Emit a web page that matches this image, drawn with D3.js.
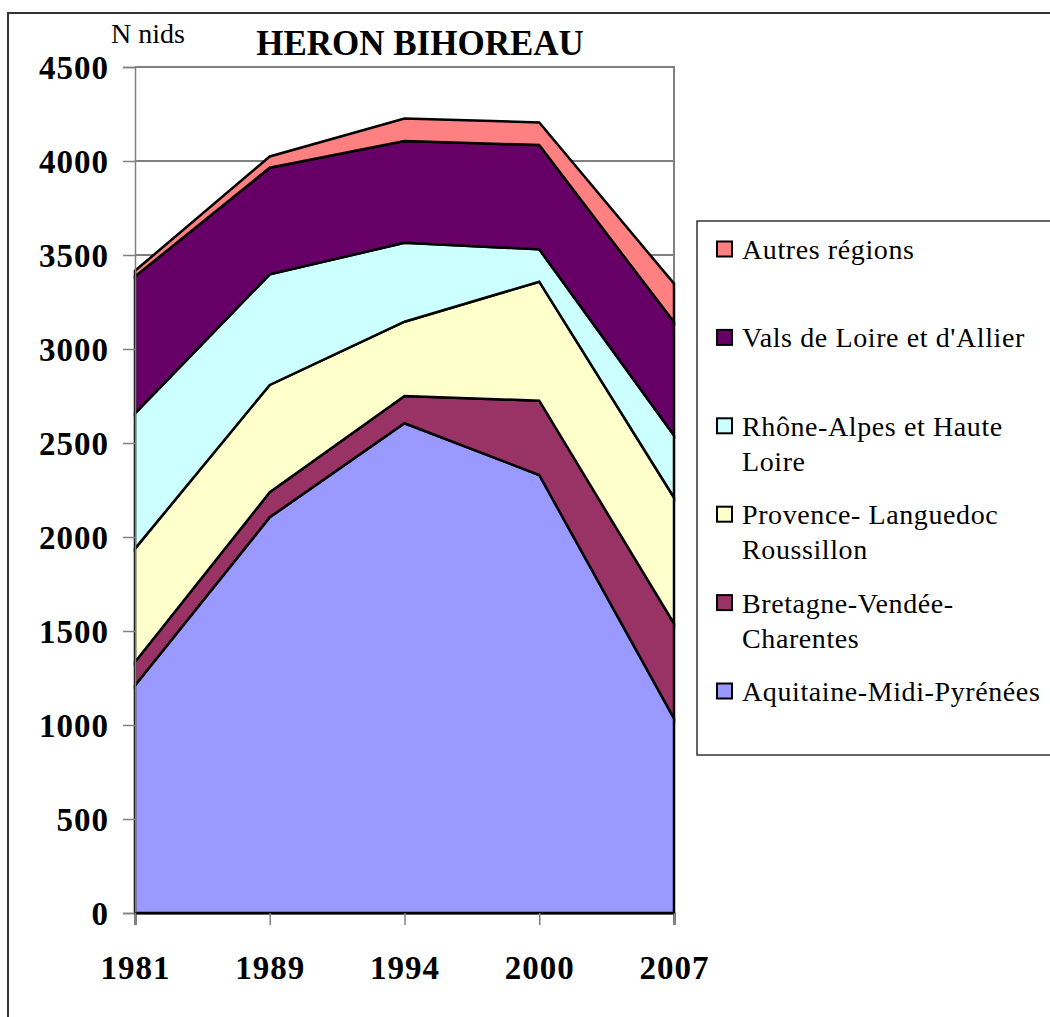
<!DOCTYPE html>
<html>
<head>
<meta charset="utf-8">
<script src="https://cdn.jsdelivr.net/npm/d3@7"></script>
<style>
	body { margin: 0; background: #fff; }
	text { font-family: "Liberation Serif", "Times New Roman", serif; }
</style>
</head>
<body>
<div id="chart"></div>
<script>
// values (nests per region)
const years = ['1981', '1989', '1994', '2000', '2007'];
const aquitaine = [1210, 2105, 2605, 2330, 1035];
const bretagne = [125, 133, 145, 395, 505];
const provence = [603, 571, 395, 633, 670];
const rhone = [720, 588, 420, 172, 330];
const vals = [728, 567, 541, 555, 603];
const autres = [30, 60, 120, 120, 205];
const yTicks = [0, 500, 1000, 1500, 2000, 2500, 3000, 3500, 4000, 4500];

// bottom to top stacking order
const series = [
	{key: 'aquitaine', values: aquitaine, color: '#9999FF', label: ['Aquitaine-Midi-Pyrénées']},
	{key: 'bretagne', values: bretagne, color: '#993366', label: ['Bretagne-Vendée-', 'Charentes']},
	{key: 'provence', values: provence, color: '#FFFFCC', label: ['Provence- Languedoc', 'Roussillon']},
	{key: 'rhone', values: rhone, color: '#CCFFFF', label: ['Rhône-Alpes et Haute', 'Loire']},
	{key: 'vals', values: vals, color: '#660066', label: ['Vals de Loire et d\'Allier']},
	{key: 'autres', values: autres, color: '#FF8080', label: ['Autres régions']}
];

let rows = years.map((y, i) => {
	let r = {year: y};
	series.forEach(s => r[s.key] = s.values[i]);
	return r;
});

let stack = d3.stack().keys(series.map(s => s.key));
let layers = stack(rows);

let svg = d3.select('#chart').append('svg')
			.attr('width', 1050)
			.attr('height', 1017);

svg.append('rect')
	.attr('width', 1050).attr('height', 1017)
	.style('fill', '#fff');

// outer chart border (runs off the right and bottom edges)
svg.append('rect')
	.attr('x', 8).attr('y', 13)
	.attr('width', 1100).attr('height', 1100)
	.style('fill', 'none')
	.style('stroke', '#333')
	.style('stroke-width', 2);

let x = d3.scalePoint().domain(years).range([135, 674]).padding(0);
let y = d3.scaleLinear().domain([0, 4500]).range([913, 67]);

// gridlines
svg.append('g')
	.selectAll('line')
	.data(yTicks.filter(d => d > 0))
	.enter().append('line')
	.attr('x1', 135).attr('x2', 674)
	.attr('y1', d => y(d)).attr('y2', d => y(d))
	.style('stroke', '#000')
	.style('stroke-width', 1);

// plot frame top / right
svg.append('path')
	.attr('d', `M135,${y(4500)}H674V${y(0)}`)
	.style('fill', 'none')
	.style('stroke', '#808080')
	.style('stroke-width', 2);

let area = d3.area()
			.x(d => x(d.data.year))
			.y0(d => y(d[0]))
			.y1(d => y(d[1]));

svg.append('g')
	.selectAll('path')
	.data(layers)
	.enter().append('path')
	.attr('d', area)
	.style('fill', (d, i) => series[i].color)
	.style('stroke', '#000')
	.style('stroke-width', 2.5)
	.style('stroke-linejoin', 'miter');

// y axis
let yAxis = svg.append('g')
			.attr('transform', 'translate(135,0)')
			.call(d3.axisLeft(y).tickValues(yTicks).tickSize(12).tickPadding(14).tickFormat(d3.format('d')));
yAxis.select('.domain').style('stroke', '#808080').style('stroke-width', 1.5);
yAxis.selectAll('.tick line').style('stroke', '#808080').style('stroke-width', 1.5);
yAxis.selectAll('.tick text')
	.attr('dy', '0.34em')
	.style('font-family', '"Liberation Serif", serif')
	.style('font-size', '33px')
	.style('font-weight', 'bold')
	.style('letter-spacing', '1px')
	.style('fill', '#000');

// x axis
let xAxis = svg.append('g')
			.attr('transform', `translate(0,${y(0)})`)
			.call(d3.axisBottom(x).tickSize(12).tickPadding(31));
xAxis.select('.domain').style('stroke', '#000').style('stroke-width', 2);
xAxis.selectAll('.tick line').style('stroke', '#808080').style('stroke-width', 1.5);
xAxis.selectAll('.tick text')
	.attr('dy', '0.71em')
	.style('font-family', '"Liberation Serif", serif')
	.style('font-size', '33px')
	.style('font-weight', 'bold')
	.style('letter-spacing', '1px')
	.style('fill', '#000');

// titles
svg.append('text')
	.attr('x', 420).attr('y', 55)
	.attr('text-anchor', 'middle')
	.style('font-size', '35px')
	.style('font-weight', 'bold')
	.text('HERON BIHOREAU');

svg.append('text')
	.attr('x', 111).attr('y', 43)
	.style('font-size', '28px')
	.text('N nids');

// legend
svg.append('rect')
	.attr('x', 697).attr('y', 221)
	.attr('width', 400).attr('height', 534)
	.style('fill', '#fff')
	.style('stroke', '#333')
	.style('stroke-width', 1.5);

let legendOrder = series.slice().reverse();
let legend = svg.selectAll('.legend')
				.data(legendOrder)
				.enter().append('g')
				.attr('class', 'legend')
				.attr('transform', (d, i) => `translate(717, ${250 + i * 88.4})`);
legend.append('rect')
	.attr('x', 0).attr('y', -8.5)
	.attr('width', 15).attr('height', 15)
	.style('fill', d => d.color)
	.style('stroke', '#000')
	.style('stroke-width', 2);
legend.append('text')
	.attr('x', 25)
	.attr('y', 9)
	.style('font-size', '28px')
	.style('letter-spacing', '0.6px')
	.selectAll('tspan')
	.data(d => d.label)
	.enter().append('tspan')
	.attr('x', 25)
	.attr('dy', (d, i) => i === 0 ? 0 : 35)
	.text(d => d);
</script>
</body>
</html>
